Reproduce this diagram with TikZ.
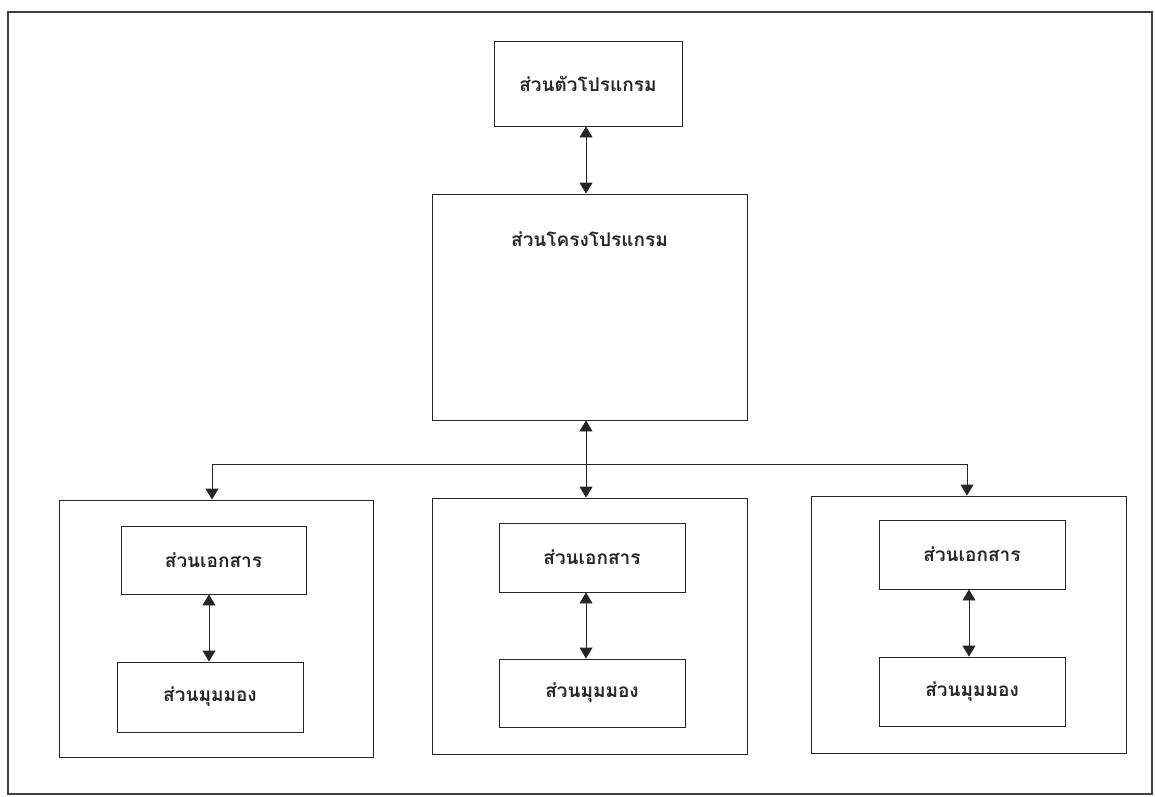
\documentclass[tikz,border=0pt]{standalone}
\usepackage{fontspec}
\newfontfamily\thaifont[Script=Thai]{Loma}
\usetikzlibrary{arrows.meta}
\tikzset{
  box/.style={draw=black!85, line width=0.9pt, rectangle, inner sep=0pt, anchor=center},
  lbl/.style={font=\thaifont\bfseries\fontsize{19}{24}\selectfont, text=black!85},
  tip/.tip={Triangle[width=13pt,length=11pt,fill=black!85]},
  dbl/.style={tip-tip, line width=0.9pt, draw=black!85},
  one/.style={-tip, line width=0.9pt, draw=black!85},
  frame/.style={draw=black!75, line width=2.2pt}
}
\begin{document}
\begin{tikzpicture}[x=1pt,y=-1pt]
\useasboundingbox (0,0) rectangle (1155,796);
\draw[frame] (8,12) rectangle (1152,794);

\node[box, lbl, minimum width=188pt, minimum height=85pt] (prog) at (588,83.5) {ส่วนตัวโปรแกรม};
\node[box, minimum width=315pt, minimum height=226pt,
      label={[lbl, anchor=center, yshift=-46pt]north:ส่วนโครงโปรแกรม}] (frm) at (589.5,307) {};
\node[box, minimum width=314pt, minimum height=257pt] (g1) at (216,628.5) {};
\node[box, minimum width=315pt, minimum height=256pt] (g2) at (589.5,626) {};
\node[box, minimum width=315pt, minimum height=257pt] (g3) at (968.5,624.5) {};

\node[box, lbl, minimum width=185pt, minimum height=68pt] (d1) at (213.5,560) {ส่วนเอกสาร};
\node[box, lbl, minimum width=186pt, minimum height=70pt] (v1) at (210,697) {ส่วนมุมมอง};
\node[box, lbl, minimum width=186pt, minimum height=69pt] (d2) at (592,557.5) {ส่วนเอกสาร};
\node[box, lbl, minimum width=186pt, minimum height=68pt] (v2) at (592,693) {ส่วนมุมมอง};
\node[box, lbl, minimum width=186pt, minimum height=69pt] (d3) at (972,554.5) {ส่วนเอกสาร};
\node[box, lbl, minimum width=186pt, minimum height=69pt] (v3) at (972,691.5) {ส่วนมุมมอง};

\coordinate (bus) at (586,464);

\draw[dbl] ([xshift=-2pt]prog.south) -- ([xshift=-2pt]prog.south |- frm.north);
\draw[dbl] ([xshift=-3.5pt]frm.south) -- ([xshift=-3.5pt]frm.south |- g2.north);
\draw[one] (bus) -| ([xshift=-4pt]g1.north);
\draw[one] (bus) -| ([xshift=-1.5pt]g3.north);
\draw[dbl] ([xshift=-4.5pt]d1.south) -- ([xshift=-4.5pt]d1.south |- v1.north);
\draw[dbl] ([xshift=-6pt]d2.south) -- ([xshift=-6pt]d2.south |- v2.north);
\draw[dbl] ([xshift=-3pt]d3.south) -- ([xshift=-3pt]d3.south |- v3.north);
\end{tikzpicture}
\end{document}
